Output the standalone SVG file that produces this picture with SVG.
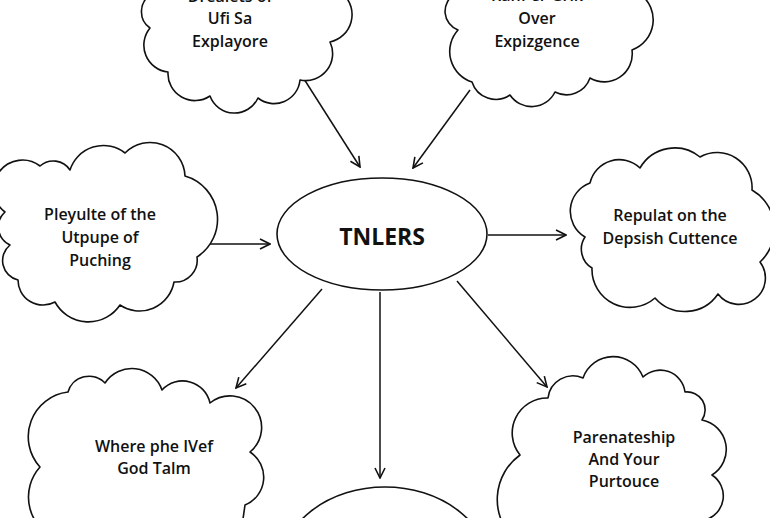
<svg xmlns="http://www.w3.org/2000/svg" width="770" height="518" viewBox="0 0 770 518">
<style>
.cloud{fill:#fff;stroke:#111;stroke-width:1.6;stroke-linejoin:round}
.lbl{font-family:"Open Sans","Liberation Sans",sans-serif;font-weight:600;font-size:16px;fill:#111;text-anchor:middle}
.title{font-size:23px;font-weight:700}
.conn{stroke:#111;stroke-width:1.5;fill:none;marker-end:url(#arr)}
</style>
<defs>
<marker id="arr" viewBox="0 0 12 12" refX="11" refY="6" markerWidth="12" markerHeight="12" markerUnits="userSpaceOnUse" orient="auto">
<path d="M1,1 L11,6 L1,11" fill="none" stroke="#111" stroke-width="1.6"/>
</marker>
</defs>
<rect width="770" height="518" fill="#fff"/>
<g id="connectors">
<line class="conn" x1="304" y1="79" x2="360" y2="167"/>
<line class="conn" x1="470" y1="90" x2="413" y2="168"/>
<line class="conn" x1="210" y1="244" x2="270" y2="244"/>
<line class="conn" x1="488" y1="235" x2="566" y2="235"/>
<line class="conn" x1="322" y1="289" x2="236" y2="388"/>
<line class="conn" x1="380" y1="292" x2="380" y2="478"/>
<line class="conn" x1="457" y1="281" x2="547" y2="387"/>
</g>
<g id="node-top-left">
<path class="cloud" d="M152,-6 L250,-30 L343,-6 A28,28 0 0 1 330,42 A27,27 0 0 1 300,80 A26,26 0 0 1 258,98 A26,26 0 0 1 210,96 A27,27 0 0 1 168,72 A27,27 0 0 1 150,28 A20,20 0 0 1 152,-6 Z"/>
<text class="lbl" x="230" y="2">Dreaiets of</text>
<text class="lbl" x="230" y="24">Ufi Sa</text>
<text class="lbl" x="230" y="47">Explayore</text>
</g>
<g id="node-top-right">
<path class="cloud" d="M455,-6 L545,-30 L640,-6 A32,32 0 0 1 632,50 A28,28 0 0 1 590,78 A25,25 0 0 1 555,92 A26,26 0 0 1 510,95 A25,25 0 0 1 472,82 A32,32 0 0 1 458,30 A20,20 0 0 1 455,-6 Z"/>
<text class="lbl" x="537" y="1">Ranf er Grik</text>
<text class="lbl" x="537" y="24">Over</text>
<text class="lbl" x="537" y="47">Expizgence</text>
</g>
<g id="node-left">
<path class="cloud" d="M5,212 A25,25 0 0 1 40,166 A20,20 0 0 1 70,170 A35,35 0 0 1 125,153 A35,35 0 0 1 185,176 A45,45 0 0 1 197,257 A22,22 0 0 1 174,282 A35,35 0 0 1 120,305 A38,38 0 0 1 55,302 A25,25 0 0 1 18,280 A20,20 0 0 1 10,245 A20,20 0 0 1 5,212 Z"/>
<text class="lbl" x="100" y="220">Pleyulte of the</text>
<text class="lbl" x="100" y="243">Utpupe of</text>
<text class="lbl" x="100" y="266">Puching</text>
</g>
<g id="node-right">
<path class="cloud" d="M585,237 A30,30 0 0 1 590,183 A30,30 0 0 1 640,168 A40,40 0 0 1 700,157 A35,35 0 0 1 752,190 A45,45 0 0 1 760,262 A25,25 0 0 1 718,294 A40,40 0 0 1 655,298 A38,38 0 0 1 592,268 A22,22 0 0 1 585,237 Z"/>
<text class="lbl" x="670" y="221">Repulat on the</text>
<text class="lbl" x="670" y="244">Depsish Cuttence</text>
</g>
<g id="node-center">
<ellipse class="cloud" cx="382" cy="234" rx="105" ry="56"/>
<text class="lbl title" x="382" y="245">TNLERS</text>
</g>
<g id="node-bottom-left">
<path class="cloud" d="M40,467 A45,45 0 0 1 68,392 A22,22 0 0 1 105,383 A32,32 0 0 1 162,390 A28,28 0 0 1 210,403 A30,30 0 0 1 250,452 A30,30 0 0 1 245,505 L240,540 L60,540 A45,45 0 0 1 40,467 Z"/>
<text class="lbl" x="154" y="452">Where phe IVef</text>
<text class="lbl" x="154" y="474">God Talm</text>
</g>
<g id="node-bottom-right">
<path class="cloud" d="M520,455 A35,35 0 0 1 548,398 A25,25 0 0 1 583,378 A32,32 0 0 1 643,377 A25,25 0 0 1 685,392 A18,18 0 0 1 702,420 A30,30 0 0 1 712,475 A25,25 0 0 1 705,520 L700,540 L515,540 A55,55 0 0 1 520,455 Z"/>
<text class="lbl" x="624" y="443">Parenateship</text>
<text class="lbl" x="624" y="465">And Your</text>
<text class="lbl" x="624" y="487">Purtouce</text>
</g>
<g id="node-bottom">
<ellipse class="cloud" cx="385" cy="570" rx="105" ry="83"/>
</g>
</svg>
